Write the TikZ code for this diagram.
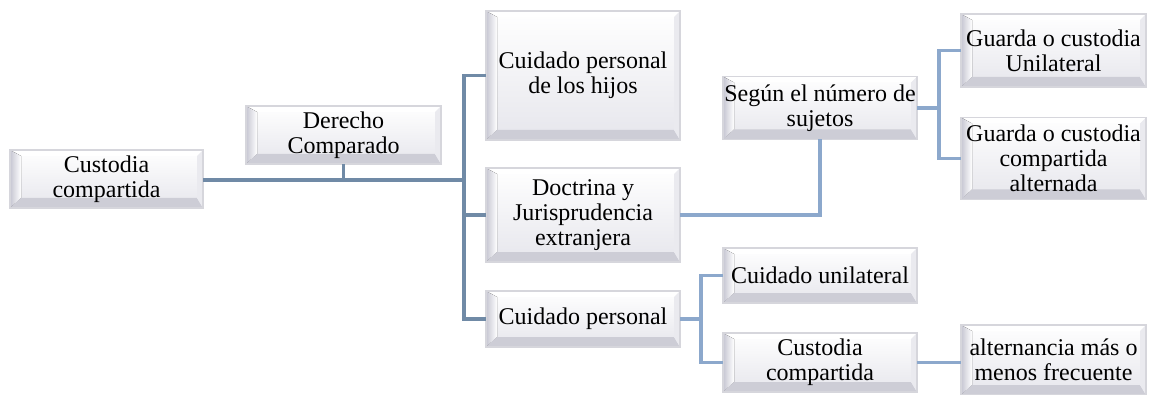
\documentclass[tikz,border=0pt]{standalone}
\usepackage{fontspec}
\setmainfont{Liberation Serif}[Ligatures=TeX]
\newfontfamily\tnr{Liberation Serif}
\definecolor{linedark}{RGB}{112,138,166}
\definecolor{linelight}{RGB}{140,168,204}
\definecolor{boxedge}{RGB}{214,214,220}
\definecolor{facebot}{RGB}{230,230,236}
\definecolor{bevleft}{RGB}{198,198,210}
\definecolor{bevbot}{RGB}{205,205,214}
\definecolor{bevright}{RGB}{234,234,239}
\begin{document}
\begin{tikzpicture}[x=1pt,y=-1pt,
  conn/.style={draw=linedark, line width=3.2pt},
  connl/.style={draw=linelight, line width=3.2pt},
  bbox/.style={draw=boxedge, line width=1.2pt, inner sep=0pt, outer sep=0pt,
    align=center, text=black,
    font=\tnr\fontsize{24pt}{25pt}\selectfont,
    path picture={
      \coordinate (ppsw) at (path picture bounding box.south west);
      \coordinate (ppne) at (path picture bounding box.north east);
      \coordinate (ppnw) at (path picture bounding box.north west);
      \coordinate (ppse) at (path picture bounding box.south east);
      \fill[top color=white,bottom color=facebot] (ppsw) rectangle (ppne);
      \fill[white] (ppnw) -- (ppne) -- ([shift={(-6pt,-6pt)}]ppne) -- ([shift={(11pt,-6pt)}]ppnw) -- cycle;
      \fill[left color=bevleft,right color=white] (ppsw) -- (ppnw) -- ([shift={(11pt,-6pt)}]ppnw) -- ([shift={(11pt,10pt)}]ppsw) -- cycle;
      \fill[bevbot] (ppsw) -- (ppse) -- ([shift={(-6pt,10pt)}]ppse) -- ([shift={(11pt,10pt)}]ppsw) -- cycle;
      \fill[bevright] (ppse) -- (ppne) -- ([shift={(-6pt,-6pt)}]ppne) -- ([shift={(-6pt,10pt)}]ppse) -- cycle;
    }},
]
\useasboundingbox (0,0) rectangle (1150,395);

% boxes
\node[bbox, minimum width=193pt, minimum height=58pt] (A) at (106.5,179) {Custodia\\compartida};
\node[bbox, minimum width=195pt, minimum height=58pt] (B) at (343.5,135) {Derecho\\Comparado};
\node[bbox, minimum width=194pt, minimum height=129pt] (C) at (583,75.5) {Cuidado personal\\de los hijos};
\node[bbox, minimum width=194pt, minimum height=94pt] (D) at (583,215) {Doctrina y\\Jurisprudencia\\extranjera};
\node[bbox, minimum width=194pt, minimum height=56pt] (E) at (583,319) {Cuidado personal};
\node[bbox, minimum width=194pt, minimum height=63pt] (F) at (820,108) {Según el número de\\sujetos};
\node[bbox, minimum width=185pt, minimum height=73pt] (G) at (1053.5,50.5) {Guarda o custodia\\Unilateral};
\node[bbox, minimum width=185pt, minimum height=82pt] (H) at (1053.5,158.5) {Guarda o custodia\\compartida\\alternada};
\node[bbox, minimum width=194pt, minimum height=55pt] (I) at (820,275.5) {Cuidado unilateral};
\node[bbox, minimum width=194pt, minimum height=59pt] (J) at (820,362.5) {Custodia\\compartida};
\node[bbox, minimum width=185pt, minimum height=70pt] (K) at (1053.5,360) {alternancia más o\\menos frecuente};

% junctions
\coordinate (j1) at (464,180);

% connectors
\draw[conn] (A.east |- j1) -- (j1);
\draw[conn] (B.south) -- (B.south |- j1);
\draw[conn] (C.west) -- ++(-22,0) |- (E.west);
\draw[conn] (D.west) -- ++(-22,0);
\draw[connl] (D.east) -| (F.south);
\draw[connl] (G.west) -- ++(-22,0) |- (H.west);
\draw[connl] (F.east) -- ++(22,0);
\draw[connl] (I.west) -- ++(-22,0) |- (J.west);
\draw[connl] (E.east) -- ++(21,0);
\draw[connl] (J.east) -- (K.west |- J.east);
\end{tikzpicture}
\end{document}
